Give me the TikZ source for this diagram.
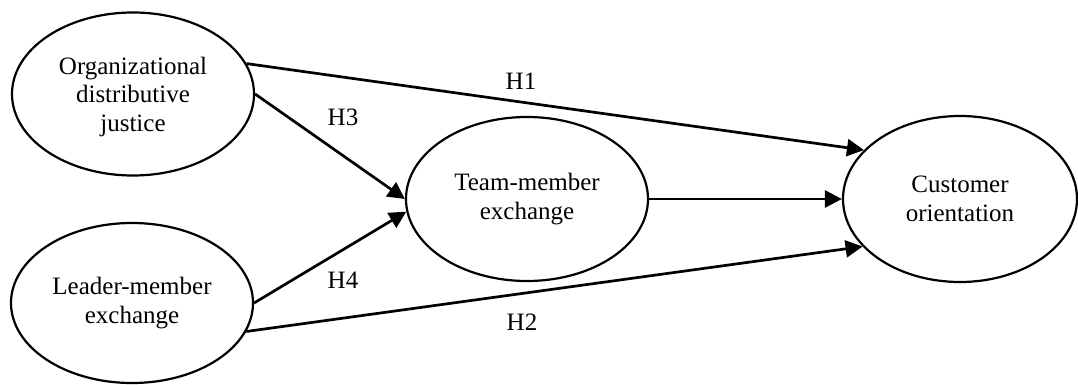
\documentclass[tikz,border=0pt]{standalone}
\usepackage{fontspec}
\setmainfont{Liberation Serif}
\usetikzlibrary{shapes.geometric,arrows.meta}
\tikzset{
  construct/.style={draw, ellipse, line width=2.2pt, inner sep=0pt, align=center,
    font=\fontsize{25}{28.5}\selectfont},
  path arrow/.style={line width=2.7pt, -{Triangle[length=17pt,width=17pt]}},
  hyp/.style={font=\fontsize{25}{28.5}\selectfont, inner sep=0pt}
}
\begin{document}
\begin{tikzpicture}[x=1pt,y=-1pt]
\useasboundingbox (0,0) rectangle (1078,385);
\node[construct, minimum width=242pt, minimum height=163pt] (odj) at (133,94) {\\[-6pt]Organizational\\distributive\\justice};
\node[construct, minimum width=242pt, minimum height=160pt] (lmx) at (132,303) {Leader-member\\exchange};
\node[construct, minimum width=242pt, minimum height=164pt] (tmx) at (527,199) {Team-member\\exchange};
\node[construct, minimum width=234pt, minimum height=166pt] (cor) at (960,199) {Customer\\orientation};
\draw[path arrow] (odj.15) -- (cor.153);
\draw[path arrow] (odj.east) -- (tmx.180);
\draw[path arrow] (lmx.east) -- (tmx.186);
\draw[path arrow] (lmx.-14) -- (cor.206);
\draw[path arrow] (tmx.east) -- (cor.west);
\node[hyp] (h1) at (521,81) {H1};
\node[hyp] (h3) at (343,117) {H3};
\node[hyp] (h4) at (343,280) {H4};
\node[hyp] (h2) at (522,322) {H2};
\end{tikzpicture}
\end{document}
